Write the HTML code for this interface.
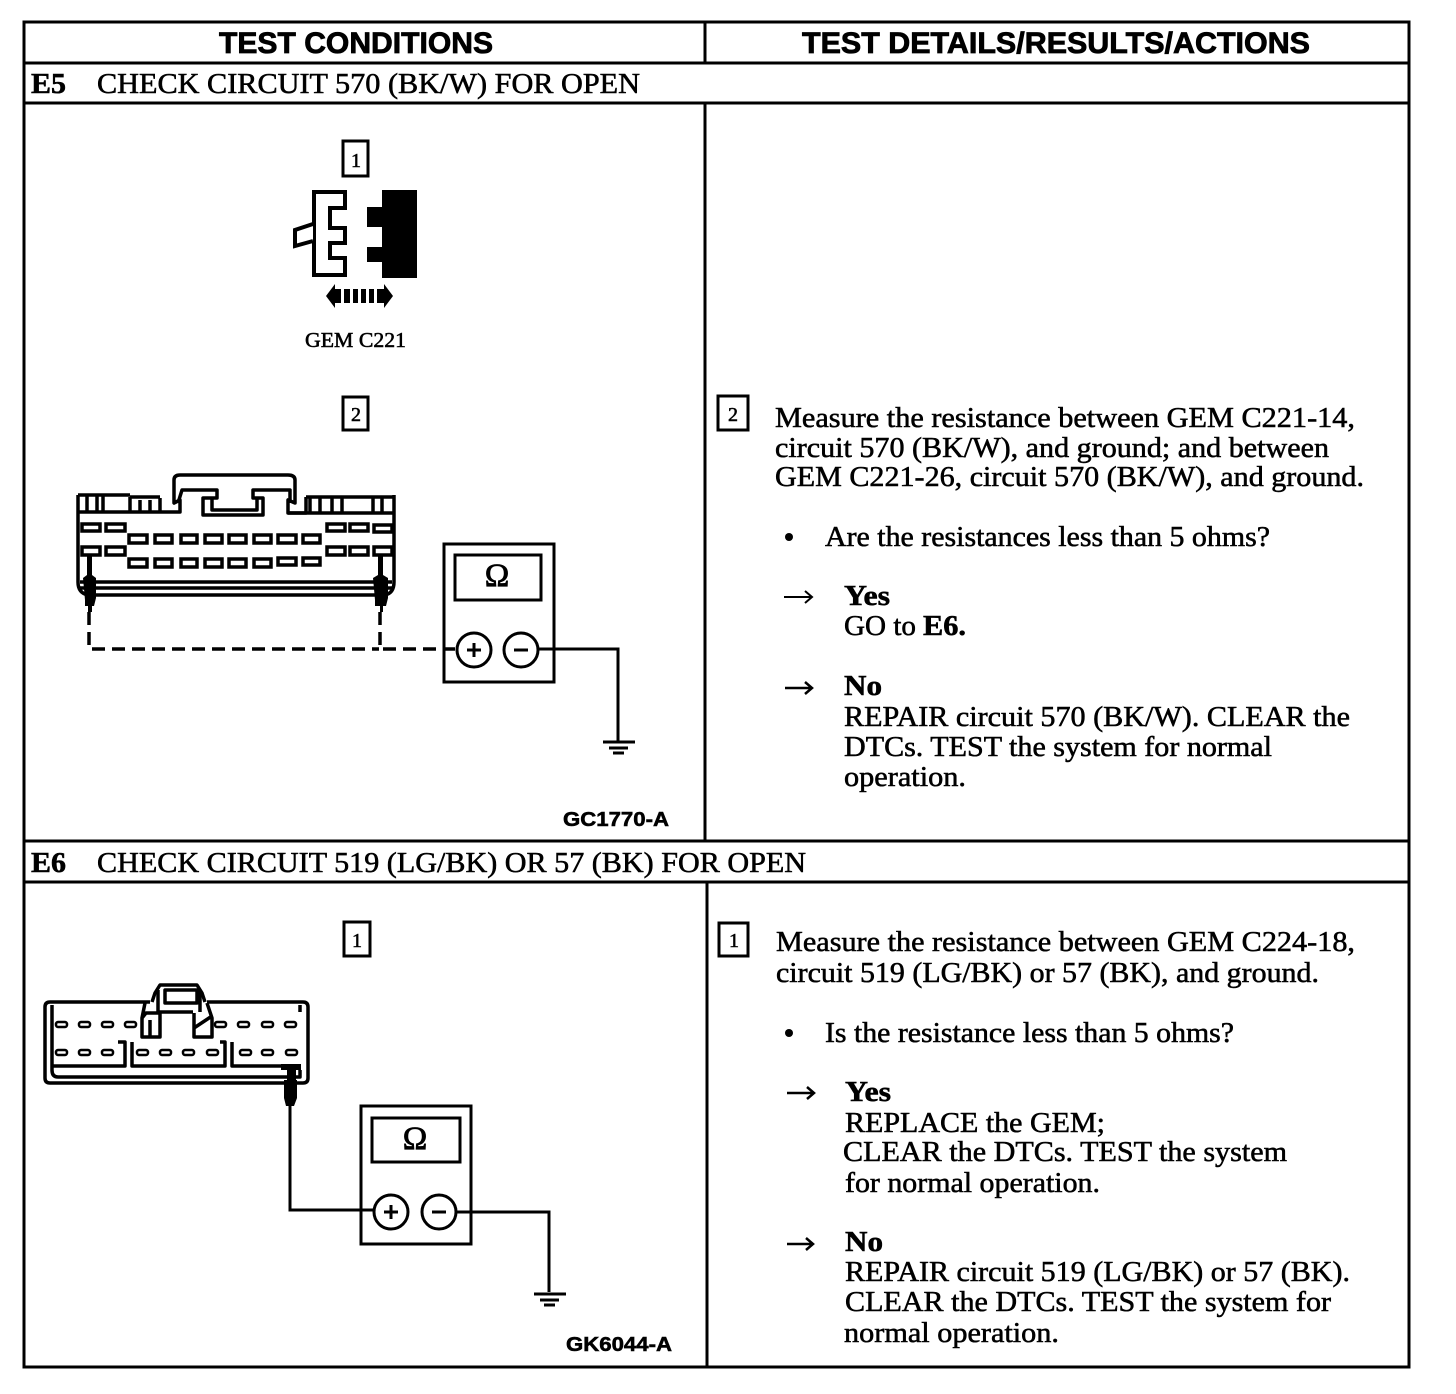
<!DOCTYPE html>
<html><head><meta charset="utf-8"><style>
html,body{margin:0;padding:0;background:#fff;width:1456px;height:1394px;overflow:hidden}
svg{display:block}
text{font-family:"Liberation Serif",serif;font-size:29px;fill:#000;stroke:#000;stroke-width:.55px}
.h{font-family:"Liberation Sans",sans-serif;font-weight:bold;font-size:30px;stroke-width:.8px}
.b{font-weight:bold}
.s{font-family:"Liberation Sans",sans-serif;font-weight:bold;font-size:20px}
.n{font-size:20px}
.o{font-size:33px;text-anchor:middle;stroke-width:.8px}
.l{fill:none;stroke:#000;stroke-width:3}
.t{fill:none;stroke:#000;stroke-width:3.5;stroke-linejoin:round}
</style></head><body>
<svg width="1456" height="1394" viewBox="0 0 1456 1394" xmlns="http://www.w3.org/2000/svg">
<!-- table -->
<g class="l">
<path d="M24 22H1409V1367H24Z"/>
<path d="M24 63H1409M24 103H1409M24 841H1409M24 882H1409" />
<path d="M705 22V63M705 103V841M707 882V1367"/>
</g>
<text class="h" x="219" y="53" textLength="274" lengthAdjust="spacingAndGlyphs">TEST CONDITIONS</text>
<text class="h" x="802" y="53" textLength="508" lengthAdjust="spacingAndGlyphs">TEST DETAILS/RESULTS/ACTIONS</text>
<text class="b" x="31" y="93" textLength="35" lengthAdjust="spacingAndGlyphs">E5</text>
<text x="97" y="93" textLength="543" lengthAdjust="spacingAndGlyphs">CHECK CIRCUIT 570 (BK/W) FOR OPEN</text>
<text class="b" x="31" y="872" textLength="35" lengthAdjust="spacingAndGlyphs">E6</text>
<text x="97" y="872" textLength="709" lengthAdjust="spacingAndGlyphs">CHECK CIRCUIT 519 (LG/BK) OR 57 (BK) FOR OPEN</text>

<!-- step boxes -->
<g class="l">
<rect x="343" y="141" width="25" height="35"/>
<rect x="343" y="397" width="25" height="33"/>
<rect x="718" y="396" width="30" height="34"/>
<rect x="344" y="922" width="26" height="34"/>
<rect x="719" y="923" width="29" height="33"/>
</g>
<text class="n" x="351" y="167">1</text>
<text class="n" x="351" y="421">2</text>
<text class="n" x="728" y="421">2</text>
<text class="n" x="352" y="947">1</text>
<text class="n" x="729" y="947">1</text>

<!-- small connector -->
<path d="M314 192H345V208H330V228H345V243H330V258H345V275H314Z" fill="#fff" stroke="#000" stroke-width="4"/>
<path d="M313 224L295 230V246L313 241" fill="#fff" stroke="#000" stroke-width="4"/>
<path d="M382 190H417V278H382V262H367V247H382V227H367V207H382Z" fill="#000"/>
<path d="M326 296L335 284V308Z" fill="#000"/><path d="M393 296L384 284V308Z" fill="#000"/>
<path d="M335 289H341V303H335ZM344 289H350V303H344ZM353 289H358V303H353ZM361 289H366V303H361ZM369 289H374V303H369ZM377 289H384V303H377Z" fill="#000"/>
<text x="305" y="347" style="font-size:21px" textLength="101" lengthAdjust="spacingAndGlyphs">GEM C221</text>

<!-- connector E5 -->
<g class="t">
<path d="M78 495V582Q78 593 88 595H385Q394 593 394 582V495"/>
<path d="M78 495H130M130 497H160M306 497H393"/>
<path d="M78 512H180V500L174 503V480Q174 475 180 475H288Q295 475 295 480V503L288 500V513H306V497"/>
<path d="M178 503L182 490H217V498H203V515H263V498H253V490H290V503"/>
<path d="M212 498V510H257V498"/>
<path d="M87 496V512M97 496V512M103 496V512M130 497V512M140 500V512M150 500V512M160 498V512M310 498V512M320 498V512M332 498V512M342 498V512M373 498V512M382 498V512"/>
<path d="M288 513H394"/>
<path d="M80 582H392M80 588H392" />
</g>
<g fill="#fff" stroke="#000" stroke-width="3.5">
<rect x="82" y="524" width="18" height="7"/><rect x="106" y="524" width="19" height="7"/>
<rect x="327" y="524" width="18" height="7"/><rect x="350" y="524" width="18" height="7"/><rect x="374" y="525" width="18" height="7"/>
<rect x="82" y="547" width="18" height="8"/><rect x="106" y="547" width="19" height="8"/>
<rect x="327" y="547" width="18" height="8"/><rect x="350" y="547" width="18" height="8"/><rect x="374" y="547" width="18" height="8"/>
<rect x="129" y="535" width="18" height="8"/><rect x="155" y="535" width="17" height="8"/><rect x="181" y="535" width="16" height="8"/><rect x="205" y="535" width="17" height="8"/><rect x="229" y="535" width="17" height="8"/><rect x="254" y="535" width="17" height="8"/><rect x="278" y="535" width="18" height="8"/><rect x="303" y="535" width="17" height="8"/>
<rect x="129" y="559" width="18" height="8"/><rect x="155" y="559" width="17" height="8"/><rect x="181" y="559" width="16" height="8"/><rect x="205" y="559" width="17" height="8"/><rect x="229" y="559" width="17" height="8"/><rect x="254" y="559" width="17" height="8"/><rect x="278" y="558" width="18" height="7"/><rect x="303" y="558" width="17" height="7"/>
</g>
<path d="M83 578L87 575V556H92V575L96 578V598L94 606H92V612H88V606H85V600Z" fill="#000"/>
<path d="M373 578L378 575V556H383V575L388 578V598L386 606H383V612H380V606H375V600Z" fill="#000"/>
<path d="M89 612V649H379M380 612V649H455" fill="none" stroke="#000" stroke-width="3.5" stroke-dasharray="13 7"/>

<!-- meter 1 -->
<rect x="444" y="544" width="110" height="138" class="l"/>
<rect x="455" y="555" width="86" height="45" class="l"/>
<text class="o" x="497" y="586">Ω</text>
<circle cx="474" cy="650" r="17" class="l"/><circle cx="521" cy="650" r="17" class="l"/>
<path d="M467 650H481M474 643V657M514 650H528" class="l"/>
<path d="M538 649H618V741" class="l"/>
<path d="M603 742H635" stroke="#000" stroke-width="3"/><path d="M609 748H628" stroke="#000" stroke-width="3"/><path d="M613 753H624" stroke="#000" stroke-width="3"/>
<text class="s" x="563" y="826" textLength="106" lengthAdjust="spacingAndGlyphs">GC1770-A</text>

<!-- connector E6 -->
<g class="t">
<path d="M150 1002H50Q45 1002 45 1007V1078Q45 1083 50 1083H303Q308 1083 308 1078V1007Q308 1002 303 1002H207"/>
<path d="M52 1005V1070Q52 1077 58 1077H300V1070M300 1005V1012"/>
<path d="M52 1066H125V1042H118M132 1042V1066H225V1042H220M232 1042V1066H285"/>
<path d="M152 1002L155 993L160 985H197L202 993L205 1002"/>
<path d="M165 990H197V1003H165ZM158 990V1012M200 990V1012"/>
<path d="M158 1012H193"/>
<path d="M145 1003L142 1018V1037H160V1013H146L142 1018M150 1020V1036"/>
<path d="M207 1003L212 1018V1037H194V1013M194 1028L212 1016"/>
</g>
<g fill="#fff" stroke="#000" stroke-width="2.5">
<rect x="56" y="1022" width="11" height="5" rx="2"/><rect x="79" y="1022" width="11" height="5" rx="2"/><rect x="102" y="1022" width="11" height="5" rx="2"/><rect x="125" y="1022" width="11" height="5" rx="2"/>
<rect x="215" y="1022" width="11" height="5" rx="2"/><rect x="238" y="1022" width="11" height="5" rx="2"/><rect x="262" y="1022" width="11" height="5" rx="2"/><rect x="285" y="1022" width="11" height="5" rx="2"/>
<rect x="56" y="1050" width="11" height="5" rx="2"/><rect x="79" y="1050" width="11" height="5" rx="2"/><rect x="102" y="1050" width="11" height="5" rx="2"/>
<rect x="137" y="1050" width="11" height="5" rx="2"/><rect x="160" y="1050" width="11" height="5" rx="2"/><rect x="183" y="1050" width="11" height="5" rx="2"/><rect x="207" y="1050" width="11" height="5" rx="2"/>
<rect x="240" y="1050" width="11" height="5" rx="2"/><rect x="262" y="1050" width="11" height="5" rx="2"/><rect x="286" y="1050" width="11" height="5" rx="2"/>
</g>
<path d="M281 1064H301V1070H296V1080H297V1098L294 1106H286L284 1098V1080H287V1070H281Z" fill="#000"/>
<path d="M290 1105V1210H373" class="l"/>

<!-- meter 2 -->
<rect x="361" y="1106" width="110" height="138" class="l"/>
<rect x="372" y="1118" width="88" height="44" class="l"/>
<text class="o" x="415" y="1149">Ω</text>
<circle cx="391" cy="1212" r="17" class="l"/><circle cx="439" cy="1212" r="17" class="l"/>
<path d="M384 1212H398M391 1205V1219M432 1212H446" class="l"/>
<path d="M456 1212H549V1292" class="l"/>
<path d="M534 1294H566" stroke="#000" stroke-width="3"/><path d="M540 1300H559" stroke="#000" stroke-width="3"/><path d="M544 1305H555" stroke="#000" stroke-width="3"/>
<text class="s" x="566" y="1351" textLength="106" lengthAdjust="spacingAndGlyphs">GK6044-A</text>

<!-- right E5 -->
<text x="775" y="427" textLength="580" lengthAdjust="spacingAndGlyphs">Measure the resistance between GEM C221-14,</text>
<text x="775" y="457" textLength="554" lengthAdjust="spacingAndGlyphs">circuit 570 (BK/W), and ground; and between</text>
<text x="775" y="486" textLength="589" lengthAdjust="spacingAndGlyphs">GEM C221-26, circuit 570 (BK/W), and ground.</text>
<circle cx="789" cy="537" r="4" fill="#000"/>
<text x="825" y="546" textLength="445" lengthAdjust="spacingAndGlyphs">Are the resistances less than 5 ohms?</text>
<path d="M784 597H811M805 591L812 597L805 603" fill="none" stroke="#000" stroke-width="2"/>
<text class="b" x="844" y="605" textLength="46" lengthAdjust="spacingAndGlyphs">Yes</text>
<text x="844" y="635" textLength="72" lengthAdjust="spacingAndGlyphs">GO to</text>
<text class="b" x="923" y="635" textLength="43" lengthAdjust="spacingAndGlyphs">E6.</text>
<path d="M785 688H811M805 682L812 688L805 694" fill="none" stroke="#000" stroke-width="2.5"/>
<text class="b" x="844" y="695" textLength="38" lengthAdjust="spacingAndGlyphs">No</text>
<text x="844" y="726" textLength="506" lengthAdjust="spacingAndGlyphs">REPAIR circuit 570 (BK/W). CLEAR the</text>
<text x="844" y="756" textLength="428" lengthAdjust="spacingAndGlyphs">DTCs. TEST the system for normal</text>
<text x="844" y="786" textLength="122" lengthAdjust="spacingAndGlyphs">operation.</text>

<!-- right E6 -->
<text x="776" y="951" textLength="579" lengthAdjust="spacingAndGlyphs">Measure the resistance between GEM C224-18,</text>
<text x="776" y="982" textLength="543" lengthAdjust="spacingAndGlyphs">circuit 519 (LG/BK) or 57 (BK), and ground.</text>
<circle cx="789" cy="1033" r="4" fill="#000"/>
<text x="825" y="1042" textLength="409" lengthAdjust="spacingAndGlyphs">Is the resistance less than 5 ohms?</text>
<path d="M787 1093H813M807 1087L814 1093L807 1099" fill="none" stroke="#000" stroke-width="2.5"/>
<text class="b" x="845" y="1101" textLength="46" lengthAdjust="spacingAndGlyphs">Yes</text>
<text x="845" y="1132" textLength="260" lengthAdjust="spacingAndGlyphs">REPLACE the GEM;</text>
<text x="843" y="1161" textLength="444" lengthAdjust="spacingAndGlyphs">CLEAR the DTCs. TEST the system</text>
<text x="845" y="1192" textLength="255" lengthAdjust="spacingAndGlyphs">for normal operation.</text>
<path d="M787 1244H811M806 1238L813 1244L806 1250" fill="none" stroke="#000" stroke-width="2.5"/>
<text class="b" x="845" y="1251" textLength="38" lengthAdjust="spacingAndGlyphs">No</text>
<text x="845" y="1281" textLength="505" lengthAdjust="spacingAndGlyphs">REPAIR circuit 519 (LG/BK) or 57 (BK).</text>
<text x="845" y="1311" textLength="486" lengthAdjust="spacingAndGlyphs">CLEAR the DTCs. TEST the system for</text>
<text x="844" y="1342" textLength="215" lengthAdjust="spacingAndGlyphs">normal operation.</text>
</svg>
</body></html>
